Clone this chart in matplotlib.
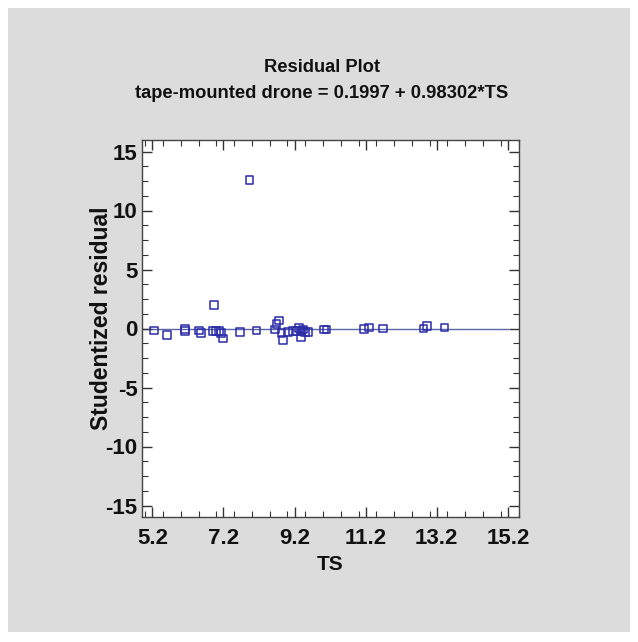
import matplotlib
matplotlib.use("Agg")
import matplotlib.pyplot as plt
from matplotlib.ticker import MultipleLocator, FixedLocator
from matplotlib.patches import Rectangle

plt.rcParams['font.family'] = ['Liberation Sans', 'DejaVu Sans']

ts = [5.25, 5.62, 6.12, 6.12, 6.52, 6.56, 6.93, 6.91, 6.99, 7.08, 7.13, 7.18,
      7.66, 7.93, 8.13, 8.65, 8.69, 8.77, 8.83, 8.88, 9.02, 9.16, 9.26, 9.33,
      9.38, 9.40, 9.44, 9.49, 9.58, 10.03, 10.10, 11.16, 11.30, 11.69, 12.83,
      12.93, 13.42]
resid = [-0.17, -0.57, -0.05, -0.2, -0.17, -0.37, 2.0, -0.22, -0.22, -0.2, -0.4,
         -0.85, -0.3, 12.57, -0.17, -0.1, 0.4, 0.68, -0.37, -1.0, -0.3, -0.22,
         -0.2, 0.05, -0.75, -0.2, -0.1, -0.3, -0.28, -0.08, -0.08, -0.03, 0.1,
         0.0, 0.0, 0.2, 0.1]
xticks = [5.2, 7.2, 9.2, 11.2, 13.2, 15.2]
yticks = [-15, -10, -5, 0, 5, 10, 15]

W, H = 638, 642
fig = plt.figure(figsize=(W / 100, H / 100), dpi=100, facecolor='white')
fig.patches.append(Rectangle((8 / W, 10 / H), (630 - 8) / W, (634 - 10) / H,
                             transform=fig.transFigure, facecolor='#dcdcdc',
                             edgecolor='none', zorder=-1))

L, R, T, B = 141.7, 518.5, 139.7, 517.3
ax = fig.add_axes([L / W, 1 - B / H, (R - L) / W, (B - T) / H])
ax.set_facecolor('white')
xmin, xmax = 4.9, 15.5
ax.set_xlim(xmin, xmax)
ax.set_ylim(-16, 16)

ax.axhline(0, xmin=0, xmax=(15.2 - xmin) / (xmax - xmin), color='#5a66a6', lw=1.0, zorder=1)
ax.scatter(ts, resid, marker='s', s=30, facecolors='none', edgecolors='#2b2ba8',
           linewidths=1.1, zorder=3)

ax.xaxis.set_major_locator(FixedLocator(xticks))
ax.xaxis.set_minor_locator(MultipleLocator(0.5))
ax.yaxis.set_major_locator(FixedLocator(yticks))
ax.yaxis.set_minor_locator(MultipleLocator(1.25))
ax.set_xticklabels([f"{v:.1f}" for v in xticks])
ax.set_yticklabels([str(v) for v in yticks])

ax.tick_params(which='both', direction='in', top=True, right=True, color='#333333')
ax.tick_params(which='major', length=7, width=1.0, labelsize=16)
ax.tick_params(axis='x', which='major', pad=8)
ax.tick_params(axis='y', which='major', pad=3)
ax.tick_params(which='minor', length=4, width=0.8)
for lab in ax.get_xticklabels() + ax.get_yticklabels():
    lab.set_fontweight('bold')
    lab.set_color('#111111')
for s in ax.spines.values():
    s.set_color('#444444')
    s.set_linewidth(1.0)

ax.set_xlabel('TS', fontsize=15, fontweight='bold', color='#111111')
ax.set_ylabel('Studentized residual', fontsize=16.5, fontweight='bold', color='#111111')
ax.xaxis.set_label_coords(0.5, -(555 - B) / (B - T))
ax.yaxis.set_label_coords(-(L - 113) / (R - L), (B - 318) / (B - T))

cx = 322 / W
fig.text(cx, 1 - 67 / H, 'Residual Plot', ha='center', va='center',
         fontsize=13.2, fontweight='bold', color='#111111')
fig.text(cx, 1 - 93.5 / H, 'tape-mounted drone = 0.1997 + 0.98302*TS', ha='center',
         va='center', fontsize=13.2, fontweight='bold', color='#111111')

fig.savefig('out.png', dpi=100, facecolor=fig.get_facecolor())
